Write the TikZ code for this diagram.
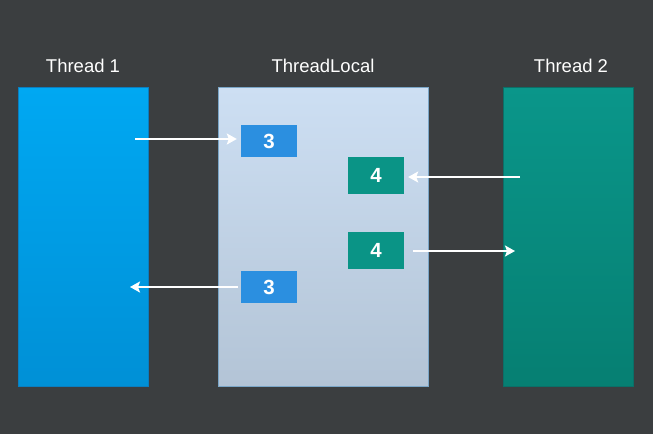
\documentclass[tikz,border=0pt]{standalone}
\usepackage{fontspec}
\setmainfont{Liberation Sans}
\usetikzlibrary{arrows.meta}

\definecolor{bgdark}{HTML}{3B3E40}
\definecolor{oneTop}{HTML}{00A8F2}
\definecolor{oneBot}{HTML}{0090D6}
\definecolor{oneLine}{HTML}{0A7EC0}
\definecolor{localTop}{HTML}{CDDFF3}
\definecolor{localBot}{HTML}{B3C4D6}
\definecolor{localLine}{HTML}{7AA6C8}
\definecolor{twoTop}{HTML}{0A968A}
\definecolor{twoBot}{HTML}{067F72}
\definecolor{twoLine}{HTML}{0B6F68}
\definecolor{valBlue}{HTML}{2B8FE0}
\definecolor{valTeal}{HTML}{0A9486}

\begin{document}
\begin{tikzpicture}[x=1pt, y=-1pt,
                    column/.style={anchor=north west, minimum height=299pt, inner sep=0pt, line width=0.8pt},
                    title/.style={text=white, font=\fontsize{18.5}{20}\selectfont},
                    value/.style={text=white, font=\fontsize{20.5}{21}\selectfont\bfseries, inner sep=0pt, minimum width=56pt, text height=14.5pt, text depth=0pt},
                    flow/.style={white, line width=1.9pt, -{Stealth[length=10pt, width=11pt, inset=2pt]}}]
                    \fill[bgdark] (0,0) rectangle (653,434);
                    \useasboundingbox (0,0) rectangle (653,434);
                    % the three columns
                    \node[column, minimum width=130pt, draw=oneLine, top color=oneTop, bottom color=oneBot] (t1) at (18,87) {};
                    \node[column, minimum width=210pt, draw=localLine, top color=localTop, bottom color=localBot] (tl) at (218,87) {};
                    \node[column, minimum width=130pt, draw=twoLine, top color=twoTop, bottom color=twoBot] (t2) at (503,87) {};
                    \node[title] (n1) at (83,66) {Thread 1};
                    \node[title] (nl) at (323,66) {ThreadLocal};
                    \node[title] (n2) at (571,66) {Thread 2};
                    % values held in ThreadLocal
                    \node[value, fill=valBlue, minimum height=32pt] (v3a) at (269,141) {3};
                    \node[value, fill=valTeal, minimum height=37pt] (v4a) at (376,175.5) {4};
                    \node[value, fill=valTeal, minimum height=37pt] (v4b) at (376,250.5) {4};
                    \node[value, fill=valBlue, minimum height=32pt] (v3b) at (269,287) {3};
                    \coordinate (p1) at (135,139);
                    \coordinate (p2) at (520,177);
                    \coordinate (p3) at (515,251);
                    \coordinate (p4) at (130,287);
                    \draw[flow, shorten >=4pt] (p1) -- (p1 -| v3a.west);
                    \draw[flow, shorten >=4pt] (p2) -- (p2 -| v4a.east);
                    \draw[flow, shorten <=9pt] (p3 -| v4b.east) -- (p3);
                    \draw[flow, shorten <=3pt] (p4 -| v3b.west) -- (p4);
                \end{tikzpicture}
\end{document}
